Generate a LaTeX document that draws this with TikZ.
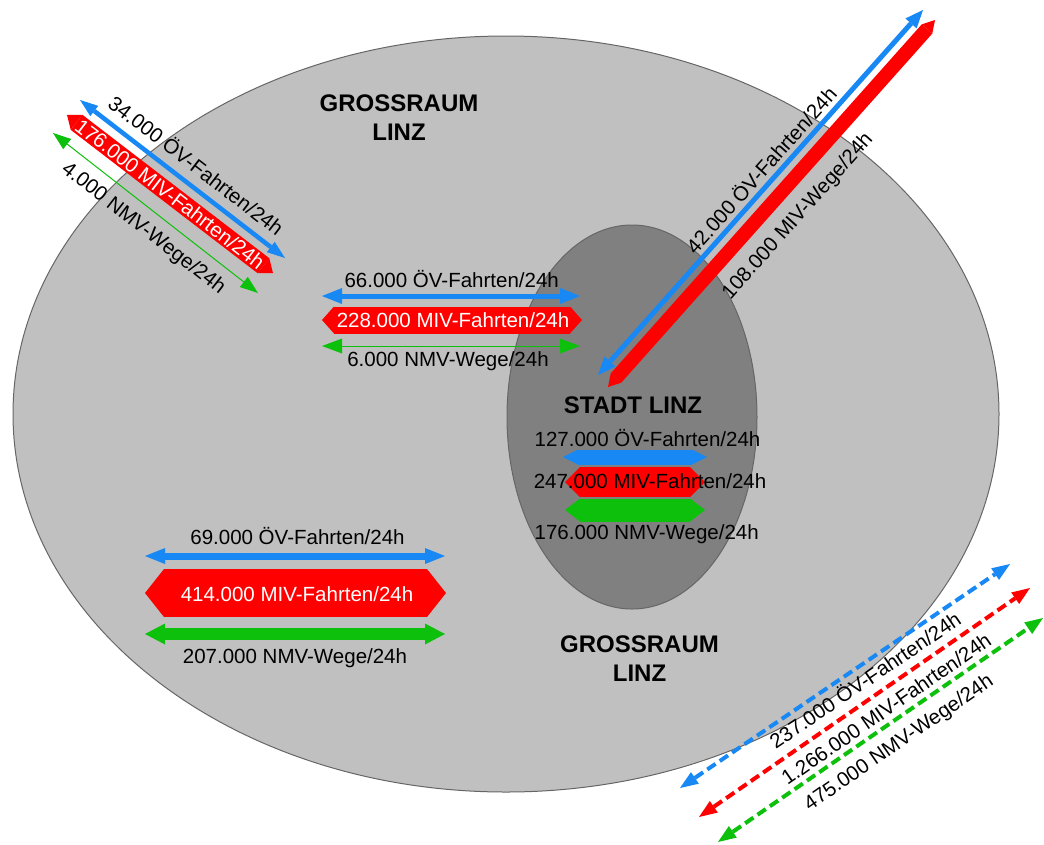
\documentclass[tikz,border=0pt]{standalone}
\usepackage{fontspec}
\setmainfont{Liberation Sans}
\usetikzlibrary{arrows.meta}

\definecolor{oevblue}{RGB}{24,136,245}
\definecolor{mivred}{RGB}{255,0,0}
\definecolor{nmvgreen}{RGB}{12,192,12}
\definecolor{areagray}{RGB}{192,192,192}
\definecolor{citygray}{RGB}{128,128,128}

\begin{document}
\begin{tikzpicture}[x=1pt, y=-1pt,
  lbl/.style={font=\fontsize{20.5}{24}\selectfont, inner sep=1pt},
  wlbl/.style={lbl, text=white},
  region/.style={font=\fontsize{24}{29}\selectfont\bfseries, align=center},
  tips/.style args={#1/#2}{arrows={Triangle[length=#1pt,width=#2pt,line width=0pt]-Triangle[length=#1pt,width=#2pt,line width=0pt]}},
  oev/.style={draw=oevblue, line width=#1},
  miv/.style={draw=mivred, line width=#1},
  nmv/.style={draw=nmvgreen, line width=#1},
  flow/.style={dash pattern=on 10pt off 5pt, line width=4pt, tips=18/14}]
  \useasboundingbox (0,0) rectangle (1044,844);
  % areas
  \draw[fill=areagray, draw=black!60, line width=1pt] (506,414) ellipse [x radius=493, y radius=378];
  \draw[fill=citygray, draw=black!60, line width=1pt] (632,417) ellipse [x radius=125, y radius=192];
  \node[region] (grTop) at (399,118) {GROSSRAUM\\LINZ};
  \node[region] (grBot) at (639.5,658.5) {GROSSRAUM\\LINZ};
  \node[region, anchor=base] (stadt) at (633,413) {STADT LINZ};

  % Grossraum <-> Grossraum (north-west)
  \coordinate (nwOa) at (80,100);  \coordinate (nwOb) at (285,258);
  \coordinate (nwMa) at (67,115);  \coordinate (nwMb) at (273,273);
  \coordinate (nwNa) at (53,133);  \coordinate (nwNb) at (258,293);
  \draw[oev=4.5pt, tips=18/13] (nwOa) -- (nwOb)
    node[lbl, sloped, above, pos=0.51, inner ysep=9pt] (nwOl) {34.000 ÖV-Fahrten/24h};
  \draw[miv=19pt, tips=12/19] (nwMa) -- (nwMb)
    node[wlbl, sloped, pos=0.5] (nwMl) {176.000 MIV-Fahrten/24h};
  \draw[nmv=1pt, tips=18/13] (nwNa) -- (nwNb)
    node[lbl, sloped, below, pos=0.5, inner ysep=10pt] (nwNl) {4.000 NMV-Wege/24h};

  % Grossraum <-> Stadt
  \coordinate (cOa) at (322,296);  \coordinate (cOb) at (580,296);
  \coordinate (cMa) at (322,320);  \coordinate (cMb) at (582,320);
  \coordinate (cNa) at (322,346);  \coordinate (cNb) at (580,346);
  \draw[oev=5pt, tips=20/16] (cOa) -- (cOb);
  \draw[miv=27pt, tips=12/27] (cMa) -- (cMb);
  \draw[nmv=1pt, tips=20/15] (cNa) -- (cNb);
  \node[lbl, anchor=base] (cOl) at (451.7,287) {66.000 ÖV-Fahrten/24h};
  \node[wlbl, anchor=base] (cMl) at (453,327) {228.000 MIV-Fahrten/24h};
  \node[lbl, anchor=base] (cNl) at (448,366.7) {6.000 NMV-Wege/24h};

  % Stadt <-> outside
  \coordinate (neOa) at (598,375); \coordinate (neOb) at (923,10);
  \coordinate (neMa) at (608,387); \coordinate (neMb) at (935,20);
  \draw[oev=5pt, tips=18/15] (neOa) -- (neOb)
    node[lbl, sloped, above, pos=0.535, inner ysep=4pt] (neOl) {42.000 ÖV-Fahrten/24h};
  \draw[miv=14pt, tips=12/14] (neMa) -- (neMb)
    node[lbl, sloped, below, pos=0.516, inner ysep=12pt] (neMl) {108.000 MIV-Wege/24h};

  % inside Stadt
  \coordinate (sOa) at (563,457);  \coordinate (sOb) at (707,457);
  \coordinate (sMa) at (565,482);  \coordinate (sMb) at (705,482);
  \coordinate (sNa) at (565,510);  \coordinate (sNb) at (705,510);
  \draw[oev=15pt, tips=15/15] (sOa) -- (sOb);
  \draw[miv=30pt, tips=15/30] (sMa) -- (sMb);
  \draw[nmv=23pt, tips=15/23] (sNa) -- (sNb);
  \node[lbl, anchor=base] (sOl) at (647.5,446.7) {127.000 ÖV-Fahrten/24h};
  \node[lbl, anchor=base] (sMl) at (650,488) {247.000 MIV-Fahrten/24h};
  \node[lbl, anchor=base] (sNl) at (646.7,539) {176.000 NMV-Wege/24h};

  % inside Grossraum
  \coordinate (gOa) at (145,556);  \coordinate (gOb) at (445,556);
  \coordinate (gMa) at (145,593);  \coordinate (gMb) at (446,593);
  \coordinate (gNa) at (145,634);  \coordinate (gNb) at (445,634);
  \draw[oev=7pt, tips=20/16] (gOa) -- (gOb);
  \draw[miv=48pt, tips=19/48] (gMa) -- (gMb);
  \draw[nmv=12pt, tips=20/21] (gNa) -- (gNb);
  \node[lbl, anchor=base] (gOl) at (297.5,544) {69.000 ÖV-Fahrten/24h};
  \node[wlbl, anchor=base] (gMl) at (297,601.7) {414.000 MIV-Fahrten/24h};
  \node[lbl, anchor=base] (gNl) at (295,663.3) {207.000 NMV-Wege/24h};

  % Grossraum <-> outside (dashed)
  \coordinate (seOa) at (680,788); \coordinate (seOb) at (1010,564);
  \coordinate (seMa) at (699,817); \coordinate (seMb) at (1030,588);
  \coordinate (seNa) at (718,842); \coordinate (seNb) at (1043,618);
  \draw[flow, draw=oevblue] (seOa) -- (seOb)
    node[lbl, sloped, below, pos=0.536, inner ysep=3pt] (seOl) {237.000 ÖV-Fahrten/24h};
  \draw[flow, draw=mivred] (seMa) -- (seMb)
    node[lbl, sloped, below, pos=0.535, inner ysep=8pt] (seMl) {1.266.000 MIV-Fahrten/24h};
  \draw[flow, draw=nmvgreen] (seNa) -- (seNb)
    node[lbl, sloped, below, pos=0.52, inner ysep=10pt] (seNl) {475.000 NMV-Wege/24h};
\end{tikzpicture}
\end{document}
